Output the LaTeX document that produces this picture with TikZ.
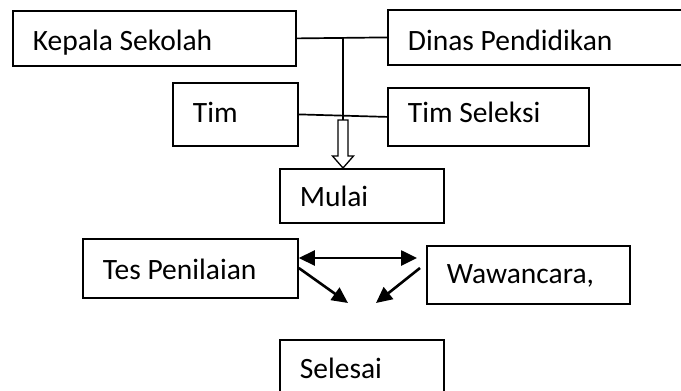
\documentclass[tikz,border=0pt]{standalone}
\usepackage{fontspec}
\setmainfont{Carlito}
\usepackage{tikz}
\usetikzlibrary{arrows.meta}

\tikzset{
	box/.style={draw, line width=1.8pt, anchor=north west, inner xsep=20pt, inner ysep=0pt, align=flush left, text height=24pt, text depth=2pt, font=\fontsize{29.5}{34}\selectfont},
	link/.style={line width=1.7pt},
	flow/.style={line width=2.6pt, -{Triangle[length=16pt,width=15pt]}},
	both/.style={line width=2.6pt, {Triangle[length=16pt,width=15pt]}-{Triangle[length=16pt,width=15pt]}}
}

\begin{document}
\begin{tikzpicture}[x=1pt,y=-1pt]
	\newcommand\sh{5}   % half width of the hollow shaft
	\newcommand\hh{10.5} % half width of the hollow head
	\clip (0,0) rectangle (681,391);

	\node[box, text width=243, minimum height=55, text height=26pt, text depth=1pt] (kepala) at (12,10) {Kepala Sekolah};
	\node[box, text width=260, minimum height=55, text height=27pt, text depth=1pt] (dinas) at (387,9) {Dinas Pendidikan};
	\node[box, text width=85, minimum height=63, text depth=7pt] (tim) at (172,82) {Tim};
	\node[box, text width=161, minimum height=58, text depth=12pt] (timsel) at (387,87) {Tim Seleksi};
	\node[box, text width=124, minimum height=54] (mulai) at (279,168) {Mulai};
	\node[box, text width=175, minimum height=59] (tes) at (82,238) {Tes Penilaian};
	\node[box, text width=163, minimum height=58, text depth=6pt] (waw) at (426,245) {Wawancara,};
	\node[box, text width=124, minimum height=56] (selesai) at (279,339) {Selesai};

	\draw[link] (kepala.east) -- (dinas.west);
	\coordinate (junc) at (343,37);
	\coordinate (stem) at (343,120);
	\coordinate (tip) at (mulai.north -| stem);
	\draw[link] (junc) -- (stem);
	\draw[link] (tim.east) -- (timsel.west);
	\draw[line width=1.3pt, fill=white] (stem) ++(-\sh,0) -- ++(0,36) -- ++(\sh-\hh,0) -- (tip) -- ++(\hh,-12) -- ++(\sh-\hh,0) -- ++(0,-36) -- cycle; % hollow arrow

	\draw[both] ([yshift=-20pt]tes.north east) -- ([xshift=-9pt,yshift=-13pt]waw.north west);
	\coordinate (meetl) at (348,303);
	\coordinate (meetr) at (376,303);
	\draw[flow] ([yshift=-30pt]tes.north east) -- (meetl);
	\draw[flow] ([xshift=-6pt,yshift=-23pt]waw.north west) -- (meetr);
\end{tikzpicture}
\end{document}
